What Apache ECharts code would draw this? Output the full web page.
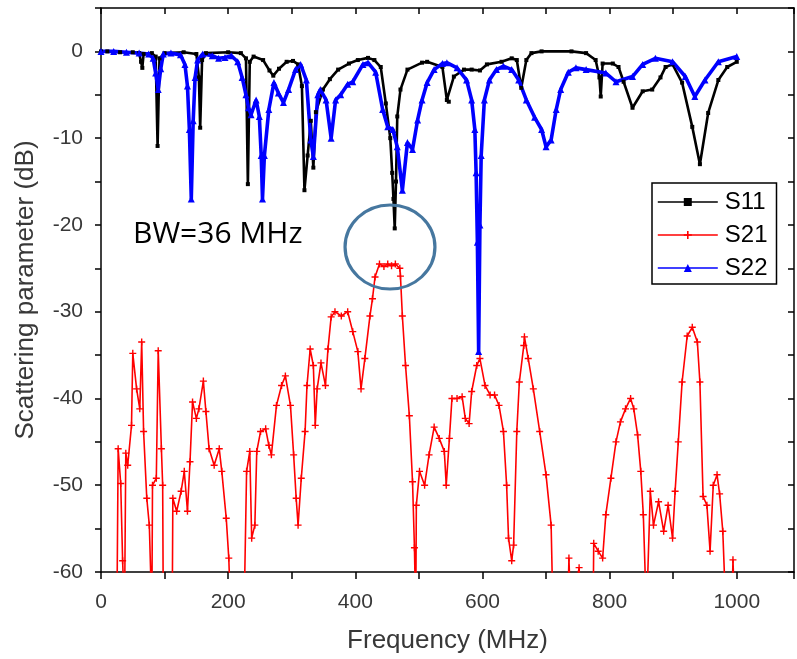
<!DOCTYPE html>
<html>
<head>
<meta charset="utf-8">
<script src="https://cdn.jsdelivr.net/npm/echarts@6/dist/echarts.min.js"></script>
<style>
html,body{margin:0;padding:0;background:#fff;}
#chart{width:797px;height:659px;}
</style>
</head>
<body>
<div id="chart"></div>
<script>
// ---- data (frequency in MHz, scattering parameter in dB) ----
const seriesNames = ['S11', 'S21', 'S22'];
const xTickLabels = [0, 200, 400, 600, 800, 1000];
const yTickLabels = [0, -10, -20, -30, -40, -50, -60];

const s11Freq = [0,10,30,50,60,63,65,67,80,86,89,92,100,130,150,154,156,159,165,200,220,228,231,234,240,255,265,271,280,292,302,310,316,320,325,330,334,338,349,360,373,390,404,420,430,440,448,455,458,460,462,464,466,471,482,505,513,537,544,547,555,571,583,596,607,630,646,654,661,669,677,693,740,763,778,784,786,789,805,814,822,836,852,867,880,888,899,914,930,942,955,971,985,1000];
const s11Db   = [0,0,-0.1,-0.1,-0.2,-1.2,-1.9,-0.3,-0.2,-0.6,-10.9,-0.8,-0.2,-0.1,-0.3,-3,-8.8,-1,-0.2,-0.1,-0.2,-0.8,-15.3,-1.2,-0.6,-1,-2.2,-2.8,-2,-1.2,-1.1,-1.5,-4,-16,-12,-8,-13.4,-7,-4.4,-3.2,-2.1,-1.4,-1,-0.75,-1,-1.8,-6,-10,-14,-17,-20.4,-15,-7.5,-4.4,-2.1,-1.3,-1.2,-1.8,-5.6,-5.8,-2.9,-2.1,-2.1,-2.2,-1.5,-1.2,-0.8,-1,-4.2,-1,-0.2,0,0,-0.2,-1,-3,-5.2,-1.4,-1.4,-1.8,-3.5,-6.5,-4.6,-4.4,-3,-1.8,-1.5,-3.6,-8.7,-13,-7.1,-3.3,-1.8,-1.2];

const s21Freq = [25,27,31,34,37,39,42,48,50,56,61,64,67,72,76,80,81,87,90,95,97,98,112,113,119,126,131,136,140,144,150,154,161,165,170,178,186,190,197,201,204,225,229,234,237,242,245,251,259,264,268,276,284,290,298,303,307,310,315,321,324,329,334,337,340,346,353,357,362,368,378,388,396,404,409,415,423,427,431,438,445,451,457,463,470,471,474,479,485,490,493,495,496,501,509,516,524,532,540,543,548,552,560,568,573,579,583,591,596,604,612,619,626,633,638,641,646,649,654,658,665,666,672,680,690,700,708,711,734,736,739,752,755,774,775,782,789,794,802,810,817,825,833,838,844,849,853,858,864,869,877,885,892,899,903,908,914,922,930,938,942,947,953,958,963,969,973,978,983,992,994,997];
const s21Db   = [-65,-45.8,-49.8,-58.7,-65,-46.3,-47.7,-43.1,-34.8,-38.9,-41.2,-33.5,-43.8,-51.5,-54.6,-65,-50,-49.2,-34.5,-45.8,-50,-65,-65,-51.5,-53,-50.7,-48.4,-53,-47.3,-40.4,-42.3,-41.2,-38,-41.5,-45.8,-47.7,-45.8,-48.4,-53.8,-58.4,-65,-65,-48.4,-46.1,-56.1,-54.6,-46.1,-43.8,-43.5,-45.4,-46.5,-40.8,-38.5,-37.4,-40.8,-46.5,-51.5,-54.6,-49.2,-43.8,-38.5,-34.3,-36.2,-43.1,-38.9,-35.9,-38.5,-34.3,-30.6,-30,-30.5,-30,-32.3,-34.6,-38.9,-35.4,-30.5,-28.5,-26,-24.5,-24.8,-24.5,-24.7,-24.5,-25,-25.9,-30.5,-36.2,-42,-49.6,-57.2,-65,-52.3,-48.4,-50,-46.5,-43.3,-44.6,-46.1,-50,-44.6,-40,-40,-39.8,-42.3,-42.9,-39.2,-36.2,-35.4,-38.5,-39.6,-39.6,-40.8,-43.8,-50,-56.1,-58.7,-56.9,-43.8,-38.1,-33.9,-32.9,-35.4,-38.9,-43.8,-48.8,-54.6,-65,-65,-58.4,-65,-59.5,-65,-65,-56.7,-57.6,-58.4,-53.4,-49.2,-45,-42.7,-41.2,-40,-41.2,-44.2,-48.4,-53.4,-65,-50.7,-54.6,-51.9,-55.3,-52.3,-56.1,-50.7,-45,-38.1,-32.8,-31.8,-33.5,-38.1,-51.3,-52.3,-57.6,-50,-48.8,-51,-55.3,-65,-65,-58.6,-65];

const s22Freq = [0,20,40,60,75,82,86,90,94,98,110,125,132,136,139,142,145,148,152,160,175,185,195,205,215,222,228,232,236,244,249,252,254,257,264,272,279,287,295,306,314,323,330,334,341,345,354,362,369,377,388,396,412,420,432,443,451,459,466,474,482,490,498,505,513,524,537,544,560,575,583,588,590,592,594,596,598,603,611,622,633,646,657,669,682,693,700,708,716,723,735,747,763,794,810,836,852,872,899,919,934,950,971,1000];
const s22Db   = [0,0,-0.1,-0.2,-0.3,-0.8,-2.5,-4.4,-2,-0.3,-0.2,-0.4,-1.5,-4,-9,-17,-8,-3,-1,-0.3,-0.5,-0.8,-0.7,-0.5,-1.2,-3,-5,-6.5,-7.3,-5.6,-7.5,-12,-17,-12,-6.7,-3.6,-4.8,-5.9,-4.4,-2.1,-1.5,-3.3,-10.2,-12.1,-5,-4.4,-5.6,-10,-5.6,-5,-3.8,-3.5,-1.5,-1.3,-2.4,-6.7,-8.7,-9,-11,-16,-10.5,-11.3,-7.9,-5.6,-3.6,-2.1,-1.4,-1.3,-1.9,-3.3,-5.6,-9,-14,-22,-34.6,-20,-12,-5.6,-3.3,-2.1,-1.7,-2.1,-3.3,-5.6,-7.6,-9,-11,-10.2,-6.7,-4.4,-2.4,-1.9,-2.1,-2.5,-3.5,-2.9,-1.5,-0.8,-1.2,-2.9,-5.2,-3.3,-1.2,-0.6];

function pairs(f, d) { return f.map((v, i) => [v, d[i]]); }

const chart = echarts.init(document.getElementById('chart'), null, {renderer: 'canvas'});
const axisCol = '#000';
const labelCol = '#383838';
const plus = 'path://M4,0L6,0L6,4L10,4L10,6L6,6L6,10L4,10L4,6L0,6L0,4L4,4Z';

const option = {
  animation: false,
  backgroundColor: '#fff',
  grid: {left: 101, top: 8, width: 699, height: 566, containLabel: false},
  legend: {
    data: seriesNames,
    orient: 'vertical',
    left: 652, top: 183,
    backgroundColor: '#fff',
    borderColor: '#000', borderWidth: 1.5,
    padding: [7, 9, 4, 5],
    itemWidth: 60, itemHeight: 10, itemGap: 9,
    lineStyle: {width: 1.6},
    textStyle: {fontFamily: 'Liberation Sans', fontSize: 24, color: '#000', lineHeight: 24, padding: [0, 0, 0, 2]}
  },
  xAxis: [{
    type: 'value', position: 'bottom', min: 0, max: 1090, interval: 100,
    name: 'Frequency (MHz)', nameLocation: 'middle', nameGap: 56,
    nameTextStyle: {fontFamily: 'Liberation Sans', fontSize: 26, color: labelCol},
    axisLine: {show: true, onZero: false, lineStyle: {color: axisCol, width: 1.5}},
    axisTick: {show: true, inside: false, length: 7, lineStyle: {color: axisCol, width: 1.5}},
    axisLabel: {margin: 20, fontFamily: 'Liberation Sans', fontSize: 21, color: labelCol,
      formatter: v => (v % 200 === 0 && v <= 1000) ? String(v) : ''},
    splitLine: {show: false}
  }, {
    type: 'value', position: 'top', min: 0, max: 1090, interval: 100,
    axisLine: {show: true, onZero: false, lineStyle: {color: axisCol, width: 1.5}},
    axisTick: {show: true, inside: true, length: 6, lineStyle: {color: axisCol, width: 1.5}},
    axisLabel: {show: false}, splitLine: {show: false}
  }],
  yAxis: [{
    type: 'value', position: 'left', min: -60, max: 5, interval: 5,
    name: 'Scattering parameter (dB)', nameLocation: 'middle', nameGap: 62,
    nameTextStyle: {fontFamily: 'Liberation Sans', fontSize: 26, color: labelCol},
    axisLine: {show: true, onZero: false, lineStyle: {color: axisCol, width: 1.5}},
    axisTick: {show: true, inside: false, length: 6, lineStyle: {color: axisCol, width: 1.5}},
    axisLabel: {margin: 18, fontFamily: 'Liberation Sans', fontSize: 21, color: labelCol,
      formatter: v => (v % 10 === 0) ? String(v) : ''},
    splitLine: {show: false}
  }, {
    type: 'value', position: 'right', min: -60, max: 5, interval: 5,
    axisLine: {show: true, onZero: false, lineStyle: {color: axisCol, width: 1.5}},
    axisTick: {show: true, inside: true, length: 6, lineStyle: {color: axisCol, width: 1.5}},
    axisLabel: {show: false}, splitLine: {show: false}
  }],
  series: [{
    name: 'S11', type: 'line', data: pairs(s11Freq, s11Db),
    xAxisIndex: 0, yAxisIndex: 0, clip: true,
    symbol: 'rect', symbolSize: 4, showAllSymbol: true,
    lineStyle: {color: '#000', width: 2.6}, itemStyle: {color: '#000'}, color: '#000'
  }, {
    name: 'S21', type: 'line', data: pairs(s21Freq, s21Db),
    xAxisIndex: 0, yAxisIndex: 0, clip: true,
    symbol: plus, symbolSize: 7, showAllSymbol: true,
    lineStyle: {color: '#ff0000', width: 1.6}, itemStyle: {color: '#ff0000'}, color: '#ff0000'
  }, {
    name: 'S22', type: 'line', data: pairs(s22Freq, s22Db),
    xAxisIndex: 0, yAxisIndex: 0, clip: true,
    symbol: 'triangle', symbolSize: 7, showAllSymbol: true,
    lineStyle: {color: '#0000ff', width: 3.6}, itemStyle: {color: '#0000ff'}, color: '#0000ff'
  }],
  graphic: [{
    type: 'text', left: 133, top: 219, z: 100,
    style: {text: 'BW=36 MHz', fontFamily: 'Open Sans', fontSize: 30, fill: '#000'}
  }, {
    type: 'circle', z: 100, x: 390, y: 247, scaleX: 1.07, scaleY: 1,
    shape: {cx: 0, cy: 0, r: 42},
    style: {fill: 'none', stroke: '#46779f', lineWidth: 3}
  }]
};
chart.setOption(option);
</script>
</body>
</html>
